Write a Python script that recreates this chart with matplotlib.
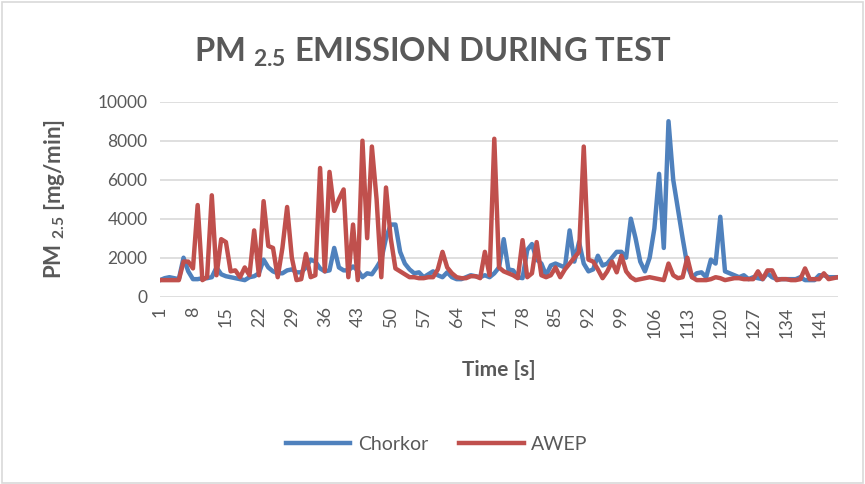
import numpy as np
import matplotlib
matplotlib.use("Agg")
import matplotlib.pyplot as plt

plt.rcParams['font.family'] = ['Lato', 'DejaVu Sans']
plt.rcParams['mathtext.fontset'] = 'custom'
plt.rcParams['mathtext.rm'] = 'Lato'
plt.rcParams['mathtext.bf'] = 'Lato:bold'

# PM2.5 emission per second
chorkor = [
    850, 950, 1000, 950, 900, 2000, 1300, 900, 900, 950,
    950, 1000, 1500, 1150, 1050, 1000, 950, 900, 850, 1000,
    1050, 1200, 1900, 1500, 1300, 1200, 1200, 1350, 1400, 1250,
    1250, 1500, 1900, 1800, 1450, 1300, 1350, 2500, 1500, 1350,
    1350, 1550, 1350, 1000, 1200, 1150, 1500, 1900, 3000, 3700,
    3700, 2300, 1700, 1400, 1200, 1250, 1000, 1150, 1300, 1100,
    1000, 1250, 1000, 900, 900, 1000, 1100, 1050, 1000, 1100,
    1000, 1200, 1500, 2950, 1400, 1350, 1000, 950, 2400, 2700,
    1900, 1700, 1100, 1600, 1700, 1600, 1500, 3400, 1800, 2800,
    1700, 1300, 1400, 2100, 1600, 1700, 2000, 2300, 2300, 2000,
    4000, 3000, 1800, 1300, 2000, 3500, 6300, 2500, 9000, 6000,
    4500, 3000, 1600, 1000, 1200, 1250, 1000, 1900, 1700, 4100,
    1300, 1200, 1100, 1000, 1100, 900, 1000, 950, 900, 1200,
    1000, 900, 900, 900, 900, 900, 1000, 850, 850, 850,
    1100, 1100, 1000, 1000, 1000,
]
awep = [
    850, 850, 850, 850, 850, 1800, 1800, 1450, 4700, 850,
    1000, 5200, 1100, 2950, 2800, 1300, 1350, 1000, 1500, 1100,
    3400, 1100, 4900, 2600, 2500, 1000, 2500, 4600, 2000, 850,
    900, 2200, 1000, 1100, 6600, 1300, 6400, 4400, 5000, 5500,
    1000, 3700, 850, 8000, 3000, 7700, 5000, 1000, 5600, 3000,
    1450, 1300, 1150, 1000, 1000, 950, 950, 1000, 1000, 1400,
    2300, 1500, 1200, 1000, 950, 950, 1050, 1050, 950, 2300,
    1100, 8100, 1500, 1300, 1200, 1100, 950, 2900, 1000, 1200,
    2800, 1100, 1000, 1100, 1500, 1000, 1400, 1700, 2000, 2300,
    7700, 1900, 1800, 1400, 950, 1300, 1800, 1250, 2100, 1300,
    1000, 850, 900, 950, 1000, 950, 900, 850, 1700, 1100,
    950, 1000, 2000, 1000, 850, 850, 850, 900, 1000, 950,
    850, 900, 950, 950, 900, 900, 900, 1300, 900, 1350,
    1350, 850, 900, 900, 850, 850, 900, 1450, 900, 900,
    900, 1200, 900, 950, 1000,
]
seconds = np.arange(1, len(chorkor) + 1)
y_ticks = [0, 2000, 4000, 6000, 8000, 10000]

grey = '#595959'
blue = '#4F81BD'
red = '#C0504D'

fig = plt.figure(figsize=(8.65, 4.84), dpi=100)
ax = fig.add_axes([160 / 865, 1 - 296.7 / 484, 678 / 865, 195 / 484])

ax.plot(seconds, chorkor, color=blue, lw=3.2, label='Chorkor', solid_joinstyle='round')
ax.plot(seconds, awep, color=red, lw=3.2, label='AWEP', solid_joinstyle='round')

ax.set_xlim(1, len(seconds))
ax.set_ylim(0, 10000)
ax.set_yticks(y_ticks)
ax.set_xticks(seconds[::7])
ax.tick_params(axis='x', labelrotation=90, length=0, pad=7, labelsize=13, labelcolor=grey)
ax.tick_params(axis='y', length=0, pad=9, labelsize=12.5, labelcolor=grey)
ax.grid(axis='y', color='#D9D9D9', lw=1.2)
ax.set_axisbelow(True)
for s in ax.spines.values():
    s.set_visible(False)

ax.set_xlabel('Time [s]', fontsize=15, fontweight='bold', color=grey, labelpad=16)
ax.set_ylabel(r'PM $_{\mathbf{2.5}}$ [mg/min]', fontsize=16, fontweight='bold', color=grey, labelpad=22)

fig.text(433 / 865, 1 - 52 / 484, r'PM $_{\mathbf{2.5}}$ EMISSION DURING TEST', ha='center', va='center',
         fontsize=23.5, fontweight='bold', color=grey)

ax.legend(loc='center', bbox_to_anchor=(437 / 865, 1 - 444 / 484), bbox_transform=fig.transFigure,
          ncol=2, frameon=False, fontsize=14, handlelength=3.3, handletextpad=0.4, columnspacing=1.6,
          labelcolor=grey)

fig.add_artist(plt.Rectangle((0.002, 0.003), 0.996, 0.993, transform=fig.transFigure,
                             fill=False, edgecolor='#D9D9D9', lw=1.2))

fig.savefig('out.png', dpi=100)
